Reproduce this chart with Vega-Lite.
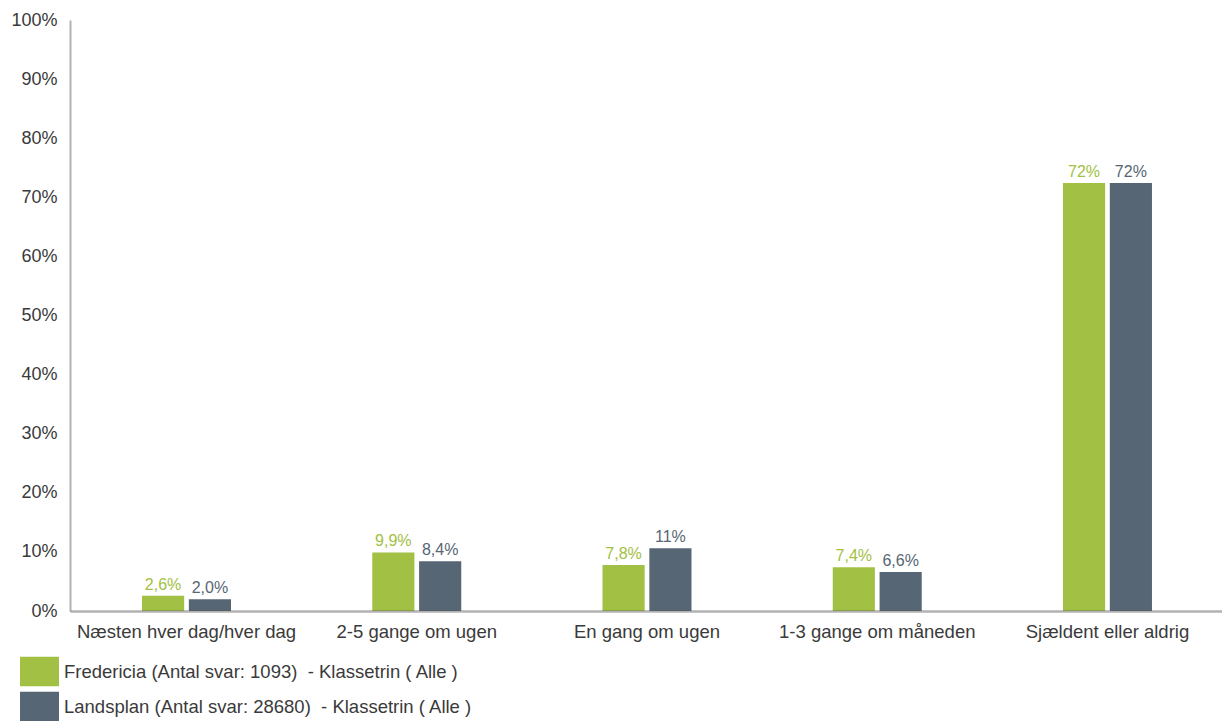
{
  "$schema": "https://vega.github.io/schema/vega-lite/v6.json",
  "width": 1152,
  "height": 591,
  "autosize": {"type": "none"},
  "padding": {"left": 70, "top": 20, "right": 0, "bottom": 110},
  "background": "white",
  "data": {
    "values": [
      {"kategori": "Næsten hver dag/hver dag", "serie": "Fredericia (Antal svar: 1093)  - Klassetrin ( Alle )", "andel": 0.026},
      {"kategori": "Næsten hver dag/hver dag", "serie": "Landsplan (Antal svar: 28680)  - Klassetrin ( Alle )", "andel": 0.020},
      {"kategori": "2-5 gange om ugen", "serie": "Fredericia (Antal svar: 1093)  - Klassetrin ( Alle )", "andel": 0.099},
      {"kategori": "2-5 gange om ugen", "serie": "Landsplan (Antal svar: 28680)  - Klassetrin ( Alle )", "andel": 0.084},
      {"kategori": "En gang om ugen", "serie": "Fredericia (Antal svar: 1093)  - Klassetrin ( Alle )", "andel": 0.078},
      {"kategori": "En gang om ugen", "serie": "Landsplan (Antal svar: 28680)  - Klassetrin ( Alle )", "andel": 0.106},
      {"kategori": "1-3 gange om måneden", "serie": "Fredericia (Antal svar: 1093)  - Klassetrin ( Alle )", "andel": 0.074},
      {"kategori": "1-3 gange om måneden", "serie": "Landsplan (Antal svar: 28680)  - Klassetrin ( Alle )", "andel": 0.066},
      {"kategori": "Sjældent eller aldrig", "serie": "Fredericia (Antal svar: 1093)  - Klassetrin ( Alle )", "andel": 0.724},
      {"kategori": "Sjældent eller aldrig", "serie": "Landsplan (Antal svar: 28680)  - Klassetrin ( Alle )", "andel": 0.724}
    ]
  },
  "encoding": {
    "x": {
      "field": "kategori",
      "type": "nominal",
      "sort": ["Næsten hver dag/hver dag", "2-5 gange om ugen", "En gang om ugen", "1-3 gange om måneden", "Sjældent eller aldrig"],
      "scale": {"paddingInner": 0.6135, "paddingOuter": 0.3085, "align": 0.507},
      "axis": {
        "title": null,
        "labelAngle": 0,
        "ticks": false,
        "labelPadding": 11,
        "labelFontSize": 18.5,
        "labelColor": "#3a3a3a",
        "labelLimit": 0,
        "domainColor": "#555555",
        "domainOpacity": 0.45,
        "domainWidth": 2.5,
        "zindex": 1
      }
    },
    "xOffset": {
      "field": "serie",
      "type": "nominal",
      "sort": ["Fredericia (Antal svar: 1093)  - Klassetrin ( Alle )", "Landsplan (Antal svar: 28680)  - Klassetrin ( Alle )"],
      "scale": {"paddingInner": 0.1, "paddingOuter": 0}
    },
    "y": {
      "field": "andel",
      "type": "quantitative",
      "scale": {"domain": [0, 1], "nice": false},
      "axis": {
        "title": null,
        "format": ".0%",
        "values": [0, 0.1, 0.2, 0.3, 0.4, 0.5, 0.6, 0.7, 0.8, 0.9, 1],
        "ticks": false,
        "grid": false,
        "labelPadding": 13,
        "labelFontSize": 18,
        "labelColor": "#3a3a3a",
        "domainColor": "#555555",
        "domainOpacity": 0.45,
        "domainWidth": 2,
        "zindex": 1
      }
    },
    "color": {
      "field": "serie",
      "type": "nominal",
      "scale": {
        "domain": ["Fredericia (Antal svar: 1093)  - Klassetrin ( Alle )", "Landsplan (Antal svar: 28680)  - Klassetrin ( Alle )"],
        "range": ["#a2c044", "#566674"]
      },
      "legend": {
        "title": null,
        "orient": "none",
        "legendX": -50,
        "legendY": 632,
        "padding": 0,
        "offset": 0,
        "symbolType": "M-1,-0.76H1V0.76H-1Z",
        "symbolSize": 1521,
        "symbolOpacity": 1,
        "symbolStrokeWidth": 0,
        "labelFontSize": 18.5,
        "labelColor": "#3a3a3a",
        "labelOffset": 5,
        "labelLimit": 0,
        "labelExpr": "replace(datum.label, '  ', ' \u00a0')",
        "rowPadding": -1
      }
    }
  },
  "layer": [
    {"mark": {"type": "bar", "opacity": 1}},
    {
      "mark": {"type": "text", "baseline": "bottom", "dy": -3, "fontSize": 16},
      "encoding": {"text": {"field": "andel", "type": "quantitative", "format": ".2p"}}
    }
  ],
  "config": {
    "font": "Liberation Sans",
    "view": {"stroke": null},
    "locale": {
      "number": {"decimal": ",", "thousands": ".", "grouping": [3], "currency": ["", " kr."]}
    }
  }
}
